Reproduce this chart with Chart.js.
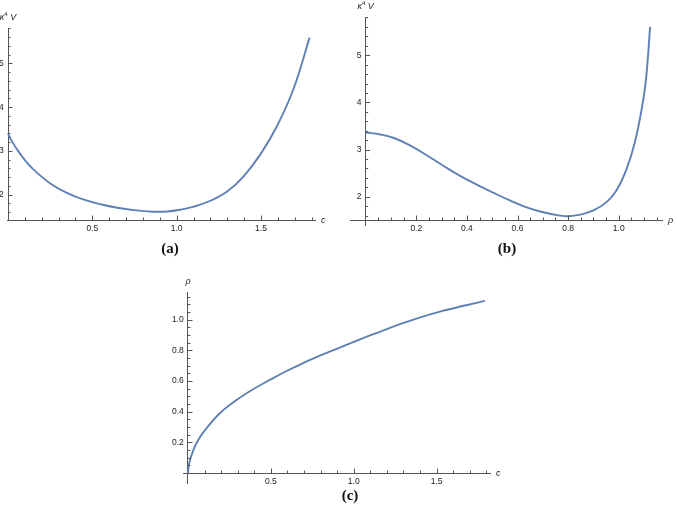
<!DOCTYPE html>
<html>
<head>
<meta charset="utf-8">
<script src="https://cdn.jsdelivr.net/npm/chart.js@4.4.0/dist/chart.umd.min.js"></script>
<style>
  body { margin: 0; background: #fff; width: 677px; height: 507px; position: relative; overflow: hidden; }
  canvas { position: absolute; }
  .cap { position: absolute; font: bold 15px "Liberation Serif", "Times New Roman", serif; line-height: 15px; color: #111; transform: translateX(-50%); }
</style>
</head>
<body>
<canvas id="chartA" width="337" height="240" style="left:0;top:0"></canvas>
<canvas id="chartB" width="340" height="240" style="left:337px;top:0"></canvas>
<canvas id="chartC" width="380" height="240" style="left:150px;top:255px"></canvas>
<div class="cap" style="left:170px;top:241px">(a)</div>
<div class="cap" style="left:507px;top:241px">(b)</div>
<div class="cap" style="left:350px;top:488px">(c)</div>
<script>
// (a) kappa^4 V against c
const cA = [0, 0.02, 0.056, 0.106, 0.155, 0.253, 0.352, 0.45, 0.549, 0.648, 0.746, 0.855, 0.944, 1.02, 1.101, 1.2, 1.299, 1.397, 1.496, 1.595, 1.693, 1.788];
const vA = [3.40, 3.24, 3.02, 2.76, 2.56, 2.25, 2.035, 1.885, 1.78, 1.70, 1.645, 1.61, 1.615, 1.655, 1.725, 1.86, 2.07, 2.42, 2.92, 3.57, 4.42, 5.59];

// (b) kappa^4 V against rho
const rhoB = [0, 0.057, 0.109, 0.175, 0.241, 0.307, 0.373, 0.439, 0.504, 0.570, 0.636, 0.702, 0.768, 0.801, 0.847, 0.90, 0.953, 0.992, 1.032, 1.064, 1.091, 1.108, 1.124];
const vB = [3.36, 3.32, 3.25, 3.09, 2.88, 2.655, 2.44, 2.255, 2.085, 1.92, 1.775, 1.67, 1.60, 1.585, 1.62, 1.71, 1.89, 2.14, 2.60, 3.16, 3.87, 4.50, 5.60];

// (c) rho against c
const cC = [0, 0.005, 0.015, 0.031, 0.051, 0.091, 0.192, 0.293, 0.393, 0.494, 0.595, 0.695, 0.796, 0.897, 1.0, 1.118, 1.319, 1.52, 1.792];
const rhoC = [0, 0.05, 0.095, 0.145, 0.194, 0.263, 0.39, 0.476, 0.546, 0.607, 0.665, 0.717, 0.765, 0.81, 0.855, 0.905, 0.985, 1.052, 1.122];

// tick labels
const cTicks = [0.5, 1.0, 1.5];
const vTicks = [2, 3, 4, 5];
const rhoXTicks = [0.2, 0.4, 0.6, 0.8, 1.0];
const rhoYTicks = [0.2, 0.4, 0.6, 0.8, 1.0];

function steps(from, to, step) {
    const out = [];
    for (let v = from; v <= to + 1e-9; v += step) out.push(Math.round(v * 1000) / 1000);
    return out;
}
const cMinor = steps(0.1, 1.8, 0.1);
const vMinor = steps(1.6, 5.8, 0.2);
const rhoMinor = steps(0.05, 1.15, 0.05);

const lineColor = '#5E81B5';
const axisColor = '#555';
const tickFont = { family: '"Liberation Sans", Arial, sans-serif', size: 8.5 };

// inward Mathematica-style ticks plus axis names
const axisDecor = {
    id: 'axisDecor',
    afterDraw(chart, args, o) {
        const { ctx, chartArea } = chart;
        const xs = chart.scales.x, ys = chart.scales.y;
        const yPix = ys.getPixelForValue(o.yCross);
        const xPix = xs.getPixelForValue(o.xCross);
        ctx.save();
        ctx.strokeStyle = axisColor;
        ctx.lineWidth = 1;
        const tick = (x1, y1, x2, y2) => {
            ctx.beginPath();
            ctx.moveTo(x1, y1);
            ctx.lineTo(x2, y2);
            ctx.stroke();
        };
        o.xMinor.forEach(v => { const x = Math.round(xs.getPixelForValue(v)) + 0.5; tick(x, yPix, x, yPix - 2.5); });
        o.xMajor.forEach(v => { const x = Math.round(xs.getPixelForValue(v)) + 0.5; tick(x, yPix, x, yPix - 4.5); });
        o.yMinor.forEach(v => { const y = Math.round(ys.getPixelForValue(v)) + 0.5; tick(xPix, y, xPix + 2.5, y); });
        o.yMajor.forEach(v => { const y = Math.round(ys.getPixelForValue(v)) + 0.5; tick(xPix, y, xPix + 4.5, y); });

        ctx.fillStyle = '#222';
        ctx.textBaseline = 'middle';
        ctx.textAlign = 'left';
        ctx.font = 'italic 9px "Liberation Sans", Arial, sans-serif';
        ctx.fillText(o.xTitle, chartArea.right + 6, yPix);

        const yTop = chartArea.top - 11;
        if (o.yTitle === 'kV') {
            const f1 = 'italic 9px "Liberation Sans", Arial, sans-serif';
            const f2 = '6px "Liberation Sans", Arial, sans-serif';
            ctx.font = f1; const w1 = ctx.measureText('κ').width;
            ctx.font = f2; const w2 = ctx.measureText('4').width;
            ctx.font = f1; const w3 = ctx.measureText(' V').width;
            let x = xPix - (w1 + w2 + w3) / 2;
            ctx.font = f1; ctx.fillText('κ', x, yTop); x += w1;
            ctx.font = f2; ctx.fillText('4', x, yTop - 3); x += w2;
            ctx.font = f1; ctx.fillText(' V', x, yTop);
        } else {
            ctx.textAlign = 'center';
            ctx.fillText(o.yTitle, xPix, yTop);
        }
        ctx.restore();
    }
};

function makeChart(id, xs, ys, cfg) {
    const points = xs.map((x, i) => ({ x: x, y: ys[i] }));
    return new Chart(document.getElementById(id), {
        type: 'scatter',
        data: {
            datasets: [{
                data: points,
                showLine: true,
                borderColor: lineColor,
                borderWidth: 1.9,
                pointRadius: 0,
                tension: 0.4
            }]
        },
        options: {
            responsive: false,
            animation: false,
            events: [],
            layout: { padding: cfg.padding },
            plugins: {
                legend: { display: false },
                tooltip: { enabled: false },
                axisDecor: cfg.decor
            },
            scales: {
                x: {
                    type: 'linear',
                    position: { y: cfg.decor.yCross },
                    min: cfg.xRange[0],
                    max: cfg.xRange[1],
                    afterBuildTicks: s => { s.ticks = cfg.decor.xMajor.map(v => ({ value: v })); },
                    grid: { display: true, drawOnChartArea: false, drawTicks: false },
                    border: { display: true, color: axisColor, width: 1 },
                    ticks: {
                        autoSkip: false,
                        maxRotation: 0,
                        padding: 4,
                        color: '#222',
                        font: tickFont,
                        callback: v => v.toFixed(cfg.xDigits)
                    }
                },
                y: {
                    type: 'linear',
                    position: { x: cfg.decor.xCross },
                    min: cfg.yRange[0],
                    max: cfg.yRange[1],
                    afterBuildTicks: s => { s.ticks = cfg.decor.yMajor.map(v => ({ value: v })); },
                    grid: { display: true, drawOnChartArea: false, drawTicks: false },
                    border: { display: true, color: axisColor, width: 1 },
                    ticks: {
                        autoSkip: false,
                        color: '#222',
                        font: tickFont,
                        // en space keeps the label off the axis line
                        callback: v => v.toFixed(cfg.yDigits) + '\u2002'
                    }
                }
            }
        },
        plugins: [axisDecor]
    });
}

makeChart('chartA', cA, vA, {
    padding: { left: 7, right: 22, top: 28, bottom: 20 },
    xRange: [-0.006, 1.82], yRange: [1.42, 5.81], xDigits: 1, yDigits: 0,
    decor: { xCross: 0, yCross: 1.42, xMajor: cTicks, xMinor: cMinor, yMajor: vTicks, yMinor: vMinor, xTitle: 'c', yTitle: 'kV' }
});

makeChart('chartB', rhoB, vB, {
    padding: { left: 13, right: 15, top: 17, bottom: 15 },
    xRange: [-0.062, 1.171], yRange: [1.40, 5.81], xDigits: 1, yDigits: 0,
    decor: { xCross: 0, yCross: 1.506, xMajor: rhoXTicks, xMinor: rhoMinor, yMajor: vTicks, yMinor: vMinor, xTitle: 'ρ', yTitle: 'kV' }
});

makeChart('chartC', cC, rhoC, {
    padding: { left: 33, right: 40, top: 37, bottom: 12 },
    xRange: [-0.03, 1.822], yRange: [-0.065, 1.18], xDigits: 1, yDigits: 1,
    decor: { xCross: 0, yCross: 0, xMajor: cTicks, xMinor: cMinor, yMajor: rhoYTicks, yMinor: rhoMinor, xTitle: 'c', yTitle: 'ρ' }
});
</script>
</body>
</html>
